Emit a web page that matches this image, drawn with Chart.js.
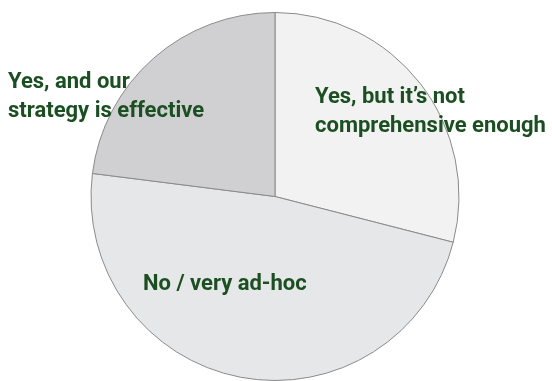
<!DOCTYPE html>
<html>
<head>
<meta charset="utf-8">
<script src="https://cdn.jsdelivr.net/npm/chart.js@4"></script>
<style>
  html, body { margin: 0; padding: 0; background: #fff; }
  #wrap { width: 552px; height: 381px; }
</style>
</head>
<body>
<div id="wrap"><canvas id="g-pie"></canvas></div>
<script>
var categorias = ['Yes, but it\u2019s not comprehensive enough', 'No / very ad-hoc', 'Yes, and our strategy is effective'];
var valores = [29, 48, 23];
var etiquetas = [
  ['Yes, but it\u2019s not', 'comprehensive enough'],
  ['No / very ad-hoc'],
  ['Yes, and our', 'strategy is effective']
];
var colores = ['#f2f2f2', '#e6e7e8', '#d0d0d2'];

// texto de cada porcion, en posiciones fijas del lienzo
var textoPorciones = {
  id: 'textoPorciones',
  afterDatasetsDraw: function (chart, args, opts) {
    var ctx = chart.ctx;
    ctx.save();
    ctx.fillStyle = opts.color;
    ctx.font = opts.font;
    ctx.textAlign = 'left';
    ctx.textBaseline = 'alphabetic';
    etiquetas.forEach(function (lineas, i) {
      var p = opts.pos[i];
      lineas.forEach(function (l, j) {
        ctx.fillText(l, p[0], p[1] + j * opts.lineHeight);
      });
    });
    ctx.restore();
  }
};

var idhtml = document.getElementById('g-pie').getContext('2d');
var g_pie = new Chart(idhtml, {
  type: 'pie',
  data: {
    labels: categorias,
    datasets: [{
      data: valores,
      backgroundColor: colores,
      borderColor: '#8a8a8a',
      borderWidth: 1
    }]
  },
  options: {
    responsive: true,
    maintainAspectRatio: false,
    animation: false,
    layout: { padding: { top: 12, bottom: 0, left: 0, right: 2 } },
    plugins: {
      legend: { display: false },
      tooltip: { enabled: false },
      textoPorciones: {
        color: '#1b4f22',
        font: 'bold 22px Roboto',
        lineHeight: 29,
        pos: [[315, 103], [143, 290], [8, 88]]
      }
    }
  },
  plugins: [textoPorciones]
});
</script>
</body>
</html>
